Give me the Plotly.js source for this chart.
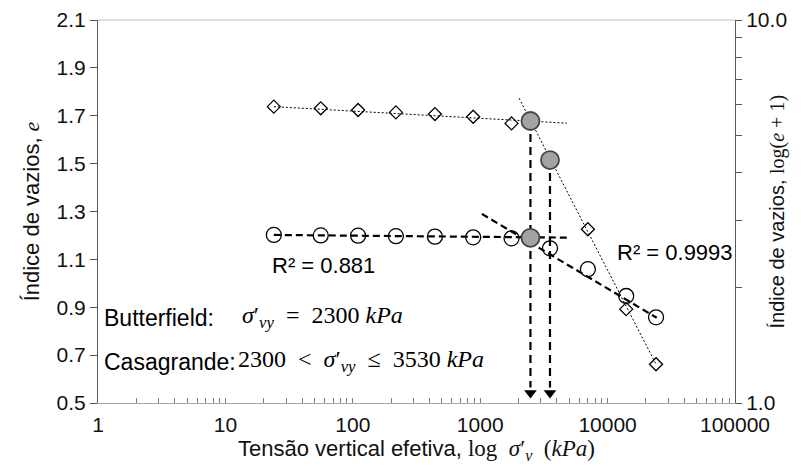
<!DOCTYPE html>
<html>
<head>
<meta charset="utf-8">
<script src="https://cdn.plot.ly/plotly-3.0.1.min.js"></script>
<style>body{margin:0;background:#fff}#chart{width:801px;height:466px}</style>
</head>
<body>
<div id="chart"></div>
<script>
// ---- data ----
const stress = [24, 56, 110, 218, 441, 881, 1762, 3530, 7000, 14000, 24000];
const eDiamond = [1.738, 1.731, 1.724, 1.714, 1.707, 1.696, 1.668, 1.515, 1.226, 0.892, 0.662];
const eCircle = [1.202, 1.200, 1.199, 1.197, 1.195, 1.192, 1.188, 1.146, 1.059, 0.947, 0.858];

// trend lines (endpoints)
const diamondFlatX = [24, 4790];
const diamondFlatY = [1.738, 1.669];
const diamondSteepX = [2020, 24000];
const diamondSteepY = [1.773, 0.662];
const circleFlatX = [24, 4790];
const circleFlatY = [1.202, 1.191];
const circleSteepX = [1030, 24300];
const circleSteepY = [1.29, 0.856];

// yield-stress construction points
const yieldX = [2480, 3530, 2480];
const yieldY = [1.678, 1.515, 1.19];
const arrowX = [2480, 3530];
const arrowTopY = [1.678, 1.515];
const arrowBottomY = 0.565;
const arrowTipY = 0.542;

// axis ticks
const xTickVals = [];
const xTickText = [];
for (let k = 0; k < 5; k++) {
  for (let m = 1; m <= 9; m++) {
    xTickVals.push(m * Math.pow(10, k));
    xTickText.push(m === 1 ? String(Math.pow(10, k)) : '');
  }
}
xTickVals.push(100000); xTickText.push('100000');
const y2TickVals = [1, 2, 3, 4, 5, 6, 7, 8, 9, 10];
const y2TickText = ['1.0', '', '', '', '', '', '', '', '', '10.0'];

const SANS = 'Liberation Sans, Arial, sans-serif';
const SERIF = 'Liberation Serif';
const EN = '\u2002';

const traces = [];
function line(x, y, w, dash) {
  return {x: x, y: y, type: 'scatter', mode: 'lines', hoverinfo: 'skip',
    line: {color: '#000', width: w, dash: dash}, showlegend: false};
}
traces.push(line(diamondFlatX, diamondFlatY, 1, '2px,2px'));
traces.push(line(diamondSteepX, diamondSteepY, 1, '2px,2px'));
traces.push(line(circleFlatX, circleFlatY, 2.2, '7px,4px'));
traces.push(line(circleSteepX, circleSteepY, 2.2, '7px,4px'));
for (let i = 0; i < arrowX.length; i++) {
  traces.push(line([arrowX[i], arrowX[i]], [arrowTopY[i], arrowBottomY], 2.2, '8px,5px'));
}
traces.push({x: arrowX, y: arrowX.map(() => arrowTipY), type: 'scatter', mode: 'markers',
  marker: {symbol: 'triangle-down', size: 11, color: '#000'}, showlegend: false});
traces.push({x: stress, y: eDiamond, type: 'scatter', mode: 'markers',
  marker: {symbol: 'diamond-open', size: 10, color: '#000', line: {width: 1.3, color: '#000'}}, showlegend: false});
traces.push({x: stress, y: eCircle, type: 'scatter', mode: 'markers',
  marker: {symbol: 'circle-open', size: 15, color: '#000', line: {width: 1.3, color: '#000'}}, showlegend: false});
traces.push({x: yieldX, y: yieldY, type: 'scatter', mode: 'markers',
  marker: {symbol: 'circle', size: 18, color: '#a3a3a3', line: {width: 1.8, color: '#444'}}, showlegend: false});
// a blank trace so the right-hand axis is drawn
traces.push({x: [1], y: [1], yaxis: 'y2', type: 'scatter', mode: 'markers',
  marker: {opacity: 0}, hoverinfo: 'skip', showlegend: false});

const layout = {
  width: 801, height: 466,
  margin: {l: 98, r: 66, t: 20, b: 63},
  paper_bgcolor: '#fff', plot_bgcolor: '#fff',
  showlegend: false,
  font: {family: SANS, color: '#111'},
  xaxis: {
    type: 'log', range: [0, 5],
    tickmode: 'array', tickvals: xTickVals, ticktext: xTickText,
    ticks: 'inside', ticklen: 5, tickcolor: '#808080', tickwidth: 1,
    showline: true, linecolor: '#a6a6a6', linewidth: 1,
    showgrid: false, zeroline: false,
    tickfont: {size: 21, family: SANS, color: '#111'},
    ticklabelstandoff: 3,
    title: {text: 'Tensão vertical efetiva, <span style="font-family:' + SERIF + ';font-size:23px">log' + EN + '<i>σ</i>′<sub><i>v</i></sub>' + EN + '(<i>kPa</i>)</span>',
      font: {size: 22, family: SANS, color: '#111'}, standoff: 4}
  },
  yaxis: {
    range: [0.5, 2.1], tick0: 0.5, dtick: 0.2, tickformat: '.1f',
    ticks: 'outside', ticklen: 7, tickcolor: '#595959',
    showline: true, linecolor: '#595959', linewidth: 1,
    showgrid: false, zeroline: false,
    tickfont: {size: 21, family: SANS, color: '#111'},
    title: {text: 'Índice de vazios, <span style="font-family:' + SERIF + '"><i>e</i></span>',
      font: {size: 22, family: SANS, color: '#111'}, standoff: 10}
  },
  yaxis2: {
    overlaying: 'y', side: 'right', type: 'log', range: [0, 1],
    tickmode: 'array', tickvals: y2TickVals, ticktext: y2TickText,
    ticks: 'outside', ticklen: 6, tickcolor: '#595959',
    showline: true, linecolor: '#595959', linewidth: 1,
    showgrid: false, zeroline: false,
    tickfont: {size: 21, family: SANS, color: '#111'}
  },
  shapes: [
    {type: 'line', xref: 'paper', yref: 'paper', x0: 0, x1: 1, y0: 1, y1: 1,
      line: {color: '#bfbfbf', width: 1}}
  ],
  annotations: [
    {xref: 'paper', yref: 'paper', x: 1.066, y: 0.5, textangle: -90, xanchor: 'center', yanchor: 'middle',
      text: 'Índice de vazios, <span style="font-family:' + SERIF + '">log(<i>e</i> + 1)</span>', showarrow: false,
      font: {size: 20, family: SANS, color: '#111'}},
    {xref: 'paper', yref: 'paper', x: 0.354, y: 0.358, xanchor: 'center', text: 'R² = 0.881', showarrow: false,
      font: {size: 22, family: SANS, color: '#000'}},
    {xref: 'paper', yref: 'paper', x: 0.906, y: 0.392, xanchor: 'center', text: 'R² = 0.9993', showarrow: false,
      font: {size: 22, family: SANS, color: '#000'}},
    {xref: 'paper', yref: 'paper', x: 0.0063, y: 0.183, xanchor: 'left', text: 'Butterfield:', showarrow: false,
      font: {size: 23, family: SANS, color: '#000'}},
    {xref: 'paper', yref: 'paper', x: 0.2235, y: 0.181, xanchor: 'left',
      text: '<i>σ</i>′<sub><i>vy</i></sub>' + EN + '=' + EN + '2300 <i>kPa</i>', showarrow: false,
      font: {size: 24, family: SERIF, color: '#000'}},
    {xref: 'paper', yref: 'paper', x: 0.0063, y: 0.068, xanchor: 'left', text: 'Casagrande:', showarrow: false,
      font: {size: 23, family: SANS, color: '#000'}},
    {xref: 'paper', yref: 'paper', x: 0.217, y: 0.066, xanchor: 'left',
      text: '2300' + EN + '&lt;' + EN + '<i>σ</i>′<sub><i>vy</i></sub>' + EN + '≤' + EN + '3530 <i>kPa</i>', showarrow: false,
      font: {size: 24, family: SERIF, color: '#000'}}
  ]
};

Plotly.newPlot('chart', traces, layout, {staticPlot: true});
</script>
</body>
</html>
